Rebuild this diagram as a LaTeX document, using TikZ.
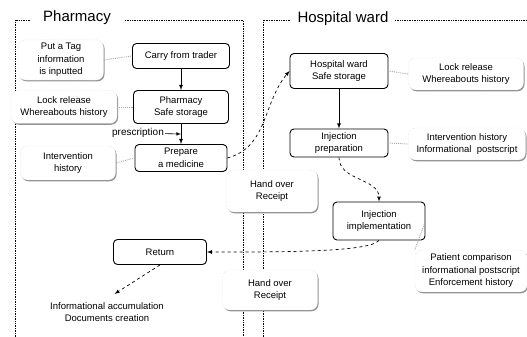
\documentclass[tikz,border=0pt]{standalone}
\usepackage{fontspec}
\setmainfont{Liberation Sans}
\usetikzlibrary{shadows}

\begin{document}
\begin{tikzpicture}[x=1pt, y=1pt, auto,
    box/.style={draw, line width=0.9pt, rounded corners=4pt, align=center,
      minimum height=25pt, font=\fontsize{9.5}{12.5}\selectfont},
    note/.style={align=center, fill=white, draw=gray!35, densely dotted,
      rounded corners=7pt, font=\fontsize{9.5}{12.5}\selectfont,
      drop shadow={shadow xshift=1pt, shadow yshift=-1.3pt, fill=gray!85, opacity=1}},
    lane/.style={densely dotted, line width=0.7pt},
    flow/.style={dashed, line width=0.7pt, -latex},
    link/.style={gray!70, densely dotted, line width=0.9pt}]

    \useasboundingbox (0, 0) rectangle (527, 337);

    % swim lanes
    \node (s) at (77, 319) {\fontsize{15}{17}\selectfont Pharmacy};
    \node (t) at (343, 318) {\fontsize{15}{17}\selectfont Hospital ward};
    \draw [lane] (30, 317) -- (15, 317) -- (15, 0);
    \draw [lane] (125, 317) -- (243, 317) -- (243, 0);
    \draw [lane] (290, 317) -- (263, 317) -- (263, 0);
    \draw [lane] (395, 317) -- (527, 317);

    \node [box, minimum width=97pt] (a) at (181, 281) {Carry from trader};
    \node [box, minimum width=95pt, minimum height=33pt] (b) at (181, 230) {Pharmacy\\Safe storage};
    \node [box, minimum width=92pt, minimum height=27pt] (c) at (181, 179) {Prepare\\a medicine};
    \node [box, minimum width=98pt, minimum height=35pt] (d) at (339, 266) {Hospital ward\\Safe storage};
    \node [box, minimum width=98pt] (e) at (339, 194) {Injection\\preparation};
    \node [box, minimum width=92pt, minimum height=38pt] (f) at (379, 116) {Injection\\implementation};
    \node [box, minimum width=93pt] (g) at (160, 85) {Return};

    \node [note, minimum width=85pt, minimum height=36pt] (h) at (61, 277) {Put a Tag\\information\\is inputted};
    \node [note, minimum width=106pt, minimum height=33pt] (i) at (64, 230) {Lock release\\Whereabouts history};
    \node [note, minimum width=95pt, minimum height=34pt] (j) at (68, 174) {Intervention\\history};
    \node [note, minimum width=91pt, minimum height=42pt] (k) at (272, 146) {Hand over\\Receipt};
    \node [note, minimum width=115pt, minimum height=32pt] (l) at (466, 263) {Lock release\\Whereabouts history};
    \node [note, minimum width=117pt, minimum height=32pt] (m) at (467, 193) {Intervention history\\Informational\ \ postscript};
    \node [note, minimum width=112pt, minimum height=42pt] (n) at (471, 66) {Patient comparison\\informational postscript\\Enforcement history};
    \node [note, minimum width=95pt, minimum height=40pt] (o) at (270, 47) {Hand over\\Receipt};
    \node [align=center, font=\fontsize{9.5}{12.5}\selectfont] (p) at (107, 25) {Informational accumulation\\Documents creation};
    \node [font=\fontsize{10}{12}\selectfont, inner sep=1pt] (q) at (138, 204) {prescription};
    \coordinate (r) at (181, 203);

    \draw [-latex, line width=0.8pt] (a) to (b);
    \draw [-latex, line width=0.8pt] (b) to (c);
    \draw [-latex, line width=0.6pt] (q) to (r);
    \draw [-latex, line width=0.8pt] (d) to (e);
    \draw [flow] (c.east) to[out=15, in=230] (d.west);
    \draw [flow] (e.south) to[out=-90, in=90] (f.north);
    \draw [flow] (f.south) .. controls +(-10, -12) and +(70, 0) .. (g.east);
    \draw [flow, shorten >=9pt] (g.south) to (p.north);

    \draw [link] (h.east) to (a.west);
    \draw [link] (i.east) to (b.west);
    \draw [link] (j.east) to (c.west);
    \draw [link] (d.east) to (l.west);
    \draw [link] (e.east) to (m.west);
    \draw [link] (f.east) to (n.north west);

\end{tikzpicture}
\end{document}
